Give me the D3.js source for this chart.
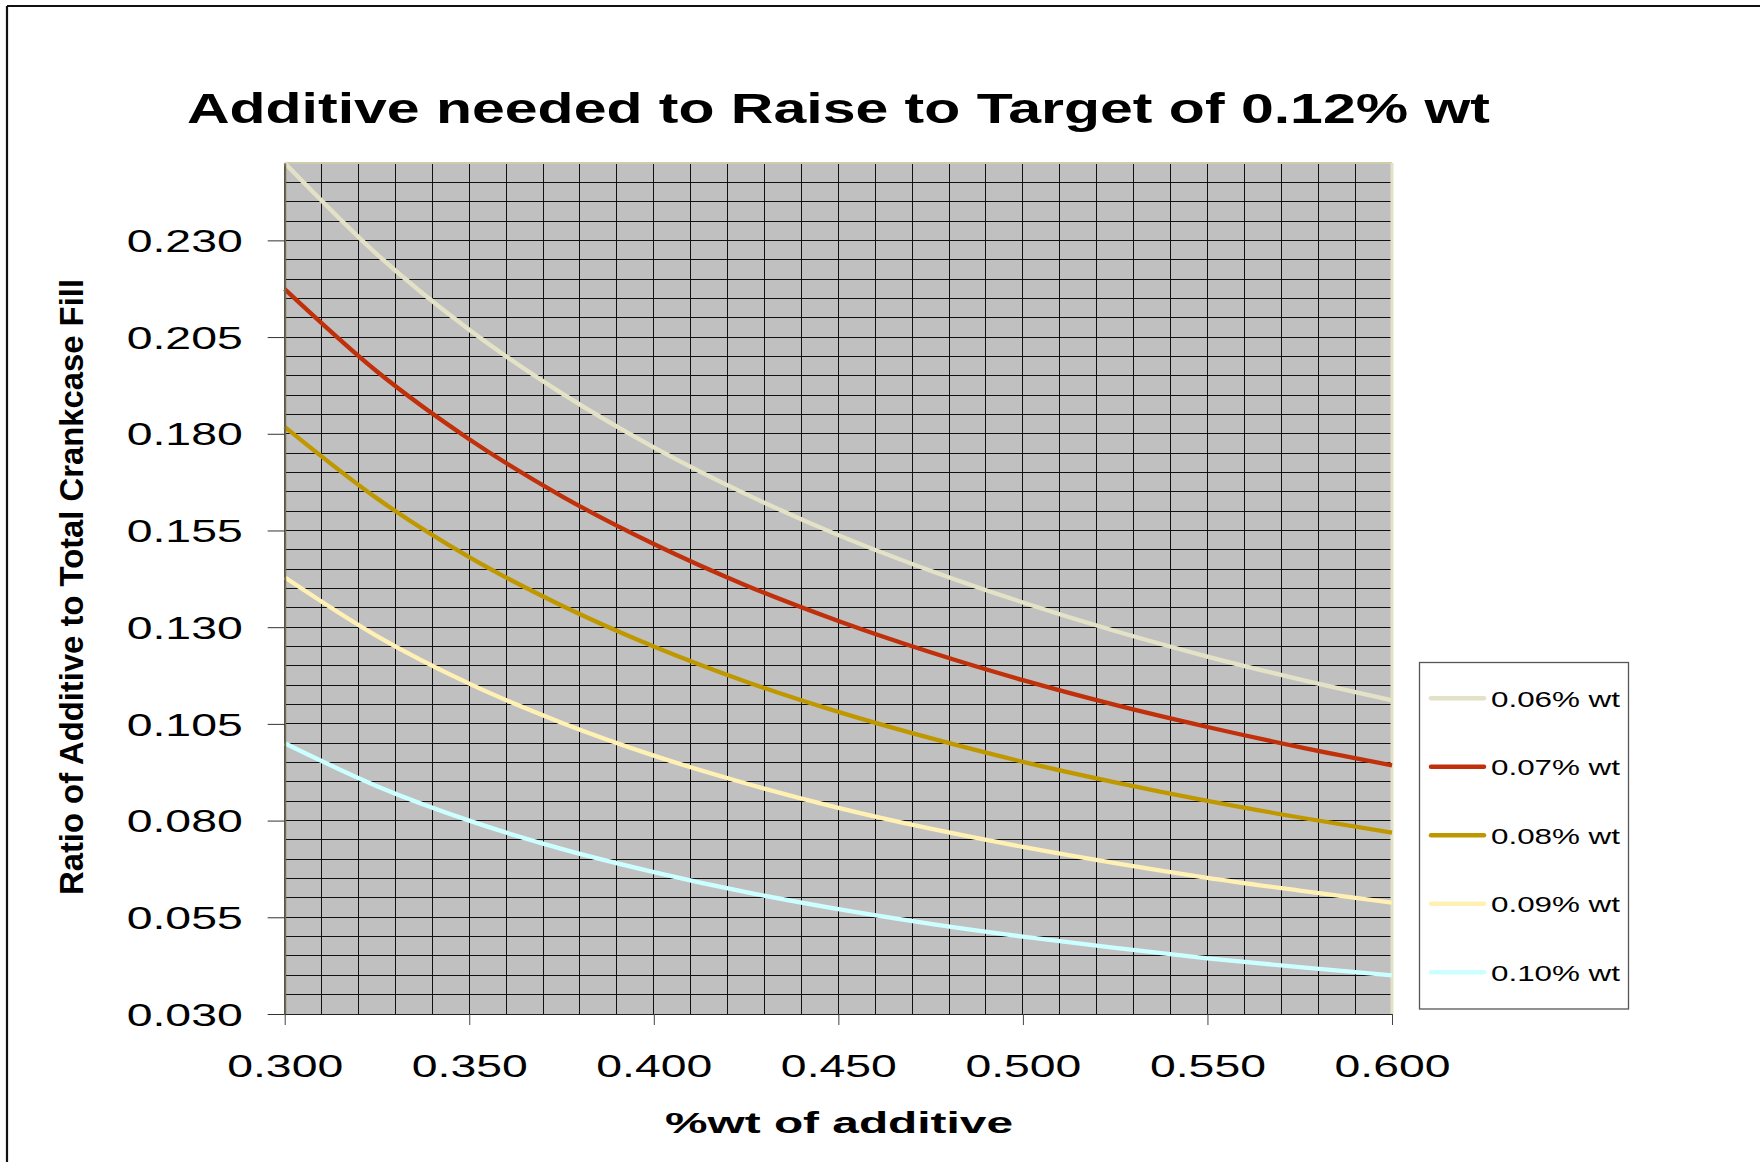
<!DOCTYPE html>
<html>
<head>
<meta charset="utf-8">
<script src="https://cdn.jsdelivr.net/npm/d3@7"></script>
<style>
  html, body { margin: 0; padding: 0; background: #fff; }
  svg { display: block; }
  text { font-family: "Liberation Sans", Arial, Helvetica, sans-serif; fill: #000; }
</style>
</head>
<body>
<svg id="chart" width="1760" height="1162"></svg>
<script>
// ---- data ----
const xValues = [0.300, 0.325, 0.350, 0.375, 0.400, 0.425, 0.450, 0.475, 0.500, 0.525, 0.550, 0.575, 0.600];
const seriesNames = ["0.06% wt", "0.07% wt", "0.08% wt", "0.09% wt", "0.10% wt"];
const s006 = [0.2500, 0.2264, 0.2069, 0.1905, 0.1765, 0.1644, 0.1538, 0.1446, 0.1364, 0.1290, 0.1224, 0.1165, 0.1111];
const s007 = [0.2174, 0.1961, 0.1786, 0.1639, 0.1515, 0.1408, 0.1316, 0.1235, 0.1163, 0.1099, 0.1042, 0.0990, 0.0943];
const s008 = [0.1818, 0.1633, 0.1481, 0.1356, 0.1250, 0.1159, 0.1081, 0.1013, 0.0952, 0.0899, 0.0851, 0.0808, 0.0769];
const s009 = [0.1429, 0.1277, 0.1154, 0.1053, 0.0968, 0.0896, 0.0833, 0.0779, 0.0732, 0.0690, 0.0652, 0.0619, 0.0588];
const s010 = [0.1000, 0.0889, 0.0800, 0.0727, 0.0667, 0.0615, 0.0571, 0.0533, 0.0500, 0.0471, 0.0444, 0.0421, 0.0400];
const xTicks = [0.300, 0.350, 0.400, 0.450, 0.500, 0.550, 0.600];
const yTicks = [0.030, 0.055, 0.080, 0.105, 0.130, 0.155, 0.180, 0.205, 0.230];
const titleText = "Additive needed to Raise to Target of 0.12% wt";
const xTitle = "%wt of additive";
const yTitle = "Ratio of Additive to Total Crankcase Fill";

// ---- layout ----
const colors = ["#e4e2c6", "#c0300a", "#bf9800", "#fff0b4", "#ccffff"];
const allSeries = [s006, s007, s008, s009, s010];
const plot = { left: 284.7, right: 1392, top: 163, bottom: 1014 };

const svg = d3.select("#chart");

// outer frame (top and left edges visible)
svg.append("line").attr("x1", 7).attr("x2", 1760).attr("y1", 6).attr("y2", 6)
  .attr("stroke", "#111").attr("stroke-width", 2.2);
svg.append("line").attr("x1", 7).attr("x2", 7).attr("y1", 6).attr("y2", 1162)
  .attr("stroke", "#111").attr("stroke-width", 2.2);

const x = d3.scaleLinear().domain([0.3, 0.6]).range([plot.left, plot.right]);
const y = d3.scaleLinear().domain([0.03, 0.25]).range([plot.bottom, plot.top]);

// plot background
svg.append("rect")
  .attr("x", plot.left).attr("y", plot.top)
  .attr("width", plot.right - plot.left).attr("height", plot.bottom - plot.top)
  .attr("fill", "#c0c0c0");

// grid
const vGrid = d3.range(0, 31).map(i => 0.3 + i * 0.01);
const hGrid = d3.range(0, 45).map(i => 0.03 + i * 0.005);
const grid = svg.append("g").attr("stroke", "#111").attr("stroke-width", 1).attr("shape-rendering", "crispEdges");
grid.selectAll("line.v").data(vGrid).join("line").attr("class", "v")
  .attr("x1", d => x(d)).attr("x2", d => x(d))
  .attr("y1", plot.top).attr("y2", plot.bottom);
grid.selectAll("line.h").data(hGrid).join("line").attr("class", "h")
  .attr("x1", plot.left).attr("x2", plot.right)
  .attr("y1", d => y(d)).attr("y2", d => y(d));

// plot border (top / right light)
svg.append("line").attr("x1", plot.left).attr("x2", plot.right).attr("y1", plot.top).attr("y2", plot.top)
  .attr("stroke", "#cfcbab").attr("stroke-width", 2);
svg.append("line").attr("x1", plot.right).attr("x2", plot.right).attr("y1", plot.top).attr("y2", plot.bottom)
  .attr("stroke", "#e4e2c6").attr("stroke-width", 3);

// series lines
const line = d3.line()
  .x((d, i) => x(xValues[i]))
  .y(d => y(d))
  .curve(d3.curveMonotoneX);
svg.append("g").selectAll("path").data(allSeries).join("path")
  .attr("d", d => line(d))
  .attr("fill", "none")
  .attr("stroke", (d, i) => colors[i])
  .attr("stroke-width", 4.3)
  .attr("stroke-linejoin", "round");

// axes
const yAxis = d3.axisLeft(y).tickValues(yTicks).tickFormat(d3.format(".3f"))
  .tickSizeInner(17).tickSizeOuter(0).tickPadding(25);
const gy = svg.append("g").attr("transform", `translate(${plot.left},0)`).call(yAxis);
gy.select(".domain").attr("stroke", "#6e6a52").attr("stroke-width", 2);
gy.selectAll(".tick line").attr("stroke", "#333");
gy.selectAll(".tick text")
  .attr("font-size", 31).attr("dy", "0.36em")
  .attr("textLength", 116).attr("lengthAdjust", "spacingAndGlyphs")
  .style("font-family", "'Liberation Sans', Arial, sans-serif").attr("fill", "#000");

const xAxis = d3.axisBottom(x).tickValues(xTicks).tickFormat(d3.format(".3f"))
  .tickSizeInner(11).tickSizeOuter(0).tickPadding(0);
const gx = svg.append("g").attr("transform", `translate(0,${plot.bottom})`).call(xAxis);
gx.select(".domain").attr("stroke", "#222").attr("stroke-width", 1.2);
gx.selectAll(".tick line").attr("stroke", "#444");
gx.selectAll(".tick text")
  .attr("font-size", 31).attr("y", 63).attr("dy", 0)
  .attr("textLength", 116).attr("lengthAdjust", "spacingAndGlyphs")
  .style("font-family", "'Liberation Sans', Arial, sans-serif").attr("fill", "#000");

// title
svg.append("text").attr("x", 187).attr("y", 123)
  .attr("font-size", 42).attr("font-weight", "bold")
  .attr("textLength", 1303).attr("lengthAdjust", "spacingAndGlyphs")
  .text(titleText);

// x axis title
svg.append("text").attr("x", 665).attr("y", 1133)
  .attr("font-size", 30).attr("font-weight", "bold")
  .attr("textLength", 348).attr("lengthAdjust", "spacingAndGlyphs")
  .text(xTitle);

// y axis title
svg.append("text")
  .attr("transform", "translate(83,587) rotate(-90)")
  .attr("text-anchor", "middle")
  .attr("font-size", 34).attr("font-weight", "bold")
  .attr("textLength", 616).attr("lengthAdjust", "spacingAndGlyphs")
  .text(yTitle);

// legend
const legend = svg.append("g");
legend.append("rect").attr("x", 1419.5).attr("y", 662.5).attr("width", 209).attr("height", 346.5)
  .attr("fill", "#fff").attr("stroke", "#555").attr("stroke-width", 1.3);
const legRows = legend.selectAll("g.row").data(seriesNames).join("g").attr("class", "row")
  .attr("transform", (d, i) => `translate(0,${698.3 + i * 68.5})`);
legRows.append("line").attr("x1", 1431).attr("x2", 1484)
  .attr("stroke", (d, i) => colors[i]).attr("stroke-width", 4.5).attr("stroke-linecap", "round");
legRows.append("text").attr("x", 1491).attr("y", 8.3)
  .attr("font-size", 22.5)
  .attr("textLength", 129).attr("lengthAdjust", "spacingAndGlyphs")
  .text(d => d);
</script>
</body>
</html>
